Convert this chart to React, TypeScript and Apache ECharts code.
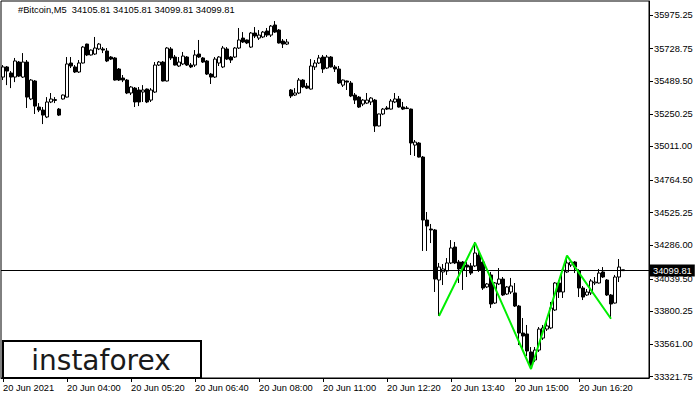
import React, { useEffect, useRef } from "react";
import * as echarts from "echarts";

// Each bar: [open, close, low, high]
const ohlc: number[][] = [
  [35520, 35594, 35498, 35608], [35594, 35564, 35461, 35601], [35550, 35520, 35439, 35564], [35520, 35638, 35483, 35660],
  [35630, 35527, 35520, 35638], [35520, 35630, 35513, 35696], [35630, 35373, 35293, 35645], [35359, 35498, 35351, 35505],
  [35491, 35307, 35249, 35498], [35300, 35278, 35263, 35329], [35278, 35241, 35175, 35300], [35227, 35337, 35219, 35373],
  [35337, 35359, 35329, 35403], [35348, 35355, 35329, 35373], [35285, 35241, 35234, 35293], [35359, 35388, 35355, 35392],
  [35373, 35616, 35370, 35667], [35623, 35601, 35586, 35667], [35594, 35557, 35550, 35608], [35557, 35623, 35550, 35645],
  [35623, 35740, 35620, 35748], [35762, 35682, 35674, 35765], [35682, 35718, 35678, 35722], [35689, 35733, 35682, 35814],
  [35726, 35762, 35718, 35770], [35726, 35718, 35696, 35740], [35711, 35638, 35630, 35733], [35667, 35652, 35645, 35674],
  [35660, 35498, 35494, 35667], [35579, 35498, 35491, 35586], [35513, 35498, 35483, 35535], [35498, 35403, 35395, 35505],
  [35403, 35447, 35388, 35454], [35439, 35337, 35300, 35447], [35425, 35337, 35307, 35447], [35410, 35425, 35337, 35461],
  [35432, 35337, 35329, 35436], [35351, 35425, 35337, 35439], [35410, 35608, 35403, 35630], [35608, 35630, 35601, 35638],
  [35630, 35491, 35488, 35638], [35491, 35733, 35488, 35740], [35726, 35660, 35645, 35740], [35667, 35608, 35605, 35682],
  [35601, 35630, 35594, 35667], [35616, 35674, 35608, 35704], [35667, 35608, 35601, 35674], [35608, 35594, 35586, 35623],
  [35608, 35682, 35594, 35718], [35689, 35667, 35660, 35792], [35660, 35630, 35623, 35667], [35638, 35542, 35535, 35645],
  [35542, 35520, 35469, 35550], [35520, 35652, 35513, 35667], [35623, 35667, 35601, 35674], [35594, 35733, 35586, 35748],
  [35726, 35652, 35645, 35740], [35667, 35645, 35623, 35674], [35667, 35733, 35660, 35740], [35733, 35792, 35726, 35880],
  [35806, 35777, 35770, 35850], [35792, 35770, 35762, 35795], [35740, 35843, 35733, 35850], [35843, 35821, 35806, 35887],
  [35806, 35828, 35792, 35865], [35814, 35850, 35806, 35858], [35858, 35828, 35814, 35880], [35828, 35894, 35814, 35902],
  [35902, 35850, 35843, 35931], [35865, 35770, 35766, 35872], [35784, 35762, 35733, 35799], [35762, 35777, 35755, 35799],
  // second session
  [35425, 35381, 35366, 35432], [35388, 35403, 35381, 35439], [35403, 35498, 35395, 35513], [35498, 35447, 35439, 35505],
  [35454, 35439, 35432, 35476], [35432, 35601, 35428, 35652], [35594, 35623, 35572, 35645], [35623, 35660, 35616, 35682],
  [35667, 35579, 35550, 35682], [35586, 35667, 35579, 35682], [35667, 35594, 35590, 35674], [35594, 35579, 35557, 35608],
  [35579, 35476, 35469, 35601], [35461, 35498, 35447, 35502], [35491, 35483, 35425, 35494], [35476, 35381, 35373, 35491],
  [35388, 35351, 35322, 35403], [35373, 35300, 35293, 35381], [35322, 35351, 35307, 35359], [35329, 35351, 35322, 35403],
  [35337, 35366, 35315, 35373], [35351, 35161, 35117, 35359], [35161, 35249, 35158, 35252], [35249, 35285, 35241, 35293],
  [35293, 35285, 35278, 35307], [35285, 35344, 35282, 35359], [35337, 35359, 35329, 35403], [35359, 35300, 35296, 35381],
  [35300, 35285, 35278, 35337], [35293, 35289, 35285, 35307], [35285, 35036, 34948, 35289], [35021, 35043, 34941, 35058],
  [35036, 34933, 34930, 35043], [34933, 34471, 34244, 34941], [34471, 34427, 34244, 34530], [34405, 34398, 34302, 34442],
  [34398, 34038, 33943, 34405], [34031, 34126, 33767, 34156], [34090, 34112, 33994, 34148], [34097, 34156, 34068, 34192],
  [34156, 34266, 34148, 34324], [34273, 34156, 34148, 34310], [34163, 34112, 34009, 34178], [34163, 34104, 33958, 34170],
  [34141, 34126, 34053, 34163], [34134, 34082, 34068, 34156], [34134, 34229, 34126, 34310], [34214, 34104, 34090, 34251],
  [34163, 33972, 33958, 34178], [33980, 34002, 33972, 34009], [34068, 33855, 33826, 34090], [33862, 34009, 33855, 34016],
  [34002, 34038, 33994, 34119], [34038, 33921, 33914, 34053], [33928, 33980, 33921, 33987], [33943, 33987, 33928, 34046],
  [33936, 33840, 33833, 34009], [33840, 33642, 33554, 33848], [33642, 33620, 33517, 33752], [33635, 33510, 33473, 33701],
  [33503, 33407, 33378, 33539], [33444, 33517, 33429, 33539], [33517, 33671, 33503, 33686], [33605, 33679, 33591, 33701],
  [33671, 33694, 33657, 33738], [33679, 33826, 33671, 33870], [33811, 34009, 33804, 34016], [34009, 33943, 33899, 34031],
  [33943, 34104, 33899, 34119], [34090, 34156, 34082, 34207], [34141, 34163, 34126, 34178], [34163, 34126, 34082, 34170],
  [34100, 33972, 33906, 34110], [33972, 33906, 33884, 33987], [33921, 33943, 33914, 33965], [33936, 34024, 33921, 34038],
  [34009, 34016, 33994, 34053], [34009, 34082, 34005, 34112], [34090, 34053, 34046, 34126], [34031, 33921, 33914, 34038],
  [33921, 33855, 33745, 33928], [33862, 34053, 33858, 34068], [34053, 34126, 34016, 34185], [34105.81, 34099.81, 34099.81, 34105.81],
];

// Pattern pivots: [bar index, price]
const zigzag: [number, number][] = [
  [109, 33767], [118, 34305], [132, 33378], [141, 34210], [152, 33747],
];

const priceTicks = [33321.75, 33561.0, 33800.25, 34039.5, 34286.0, 34525.25, 34764.5, 35011.0, 35250.25, 35489.5, 35728.75, 35975.25];
const timeTickIndex = [0, 16, 32, 48, 64, 80, 96, 112, 128, 144];
const timeTickLabels = ["20 Jun 2021", "20 Jun 04:00", "20 Jun 05:20", "20 Jun 06:40", "20 Jun 08:00", "20 Jun 11:00", "20 Jun 12:20", "20 Jun 13:40", "20 Jun 15:00", "20 Jun 16:20"];
const lastPrice = 34099.81;
const headerText = "#Bitcoin,M5  34105.81 34105.81 34099.81 34099.81";
const watermark = "instaforex";
const SLOTS = 162;
const Y_MIN = 33312;
const Y_MAX = 36078;

const FONT = '"Liberation Sans", Arial, sans-serif';

export default function App() {
  const ref = useRef<HTMLDivElement>(null);
  useEffect(() => {
    if (!ref.current) return;
    const chart = echarts.init(ref.current, null, { renderer: "svg" });
    const categories = Array.from({ length: SLOTS }, (_, i) => String(i));
    const labelMap: Record<number, string> = {};
    timeTickIndex.forEach((idx, k) => (labelMap[idx] = timeTickLabels[k]));
    const isTick = (i: number) => labelMap[i] !== undefined;

    chart.setOption({
      animation: false,
      backgroundColor: "#fff",
      textStyle: { fontFamily: FONT },
      grid: { left: 1, right: 51, top: 1, bottom: 22, show: true, borderColor: "#000", borderWidth: 1 },
      xAxis: {
        type: "category",
        data: categories,
        boundaryGap: true,
        axisLine: { show: true, lineStyle: { color: "#000", width: 1 } },
        axisTick: { show: true, alignWithLabel: true, interval: (i: number) => isTick(i), length: 4, lineStyle: { color: "#000" } },
        axisLabel: {
          interval: (i: number) => isTick(i),
          formatter: (_v: string, i: number) => labelMap[i] ?? "",
          align: "left",
          color: "#000",
          fontSize: 9.3,
          fontFamily: FONT,
          margin: 5,
        },
        splitLine: { show: false },
      },
      yAxis: {
        type: "value",
        position: "right",
        min: Y_MIN,
        max: Y_MAX,
        axisLine: { show: true, lineStyle: { color: "#000", width: 1 } },
        axisTick: { show: true, customValues: priceTicks, length: 4, lineStyle: { color: "#000" } },
        axisLabel: {
          customValues: priceTicks,
          formatter: (v: number) => v.toFixed(2),
          color: "#000",
          fontSize: 9.3,
          fontFamily: FONT,
          margin: 5,
        },
        splitLine: { show: false },
      },
      series: [
        {
          type: "candlestick",
          data: ohlc,
          barWidth: 3,
          itemStyle: { color: "#fff", color0: "#000", borderColor: "#000", borderColor0: "#000", borderWidth: 1 },
          markLine: {
            silent: true,
            symbol: ["none", "none"],
            data: [{ yAxis: lastPrice }],
            lineStyle: { color: "#000", width: 1, type: "solid" },
            label: {
              show: true,
              position: "end",
              formatter: lastPrice.toFixed(2),
              color: "#fff",
              backgroundColor: "#000",
              padding: [2, 3, 1, 3],
              fontSize: 9.3,
              fontFamily: FONT,
              distance: 1,
            },
          },
        },
        {
          type: "line",
          data: zigzag,
          symbol: "none",
          lineStyle: { color: "#00EE00", width: 2 },
          z: 5,
        },
      ],
      graphic: [
        { type: "text", left: 18, top: 5, style: { text: headerText, fill: "#000", font: `9.3px ${FONT}` } },
        { type: "rect", shape: { x: 3, y: 341, width: 198, height: 37 }, style: { fill: "#fff", stroke: "#000", lineWidth: 2 }, z: 10 },
        {
          type: "text",
          x: 101,
          y: 360,
          style: { text: watermark, fill: "#1a1a1a", font: '28px "DejaVu Sans", sans-serif', align: "center", verticalAlign: "middle" },
          z: 11,
        },
      ],
    });
    return () => chart.dispose();
  }, []);
  return <div ref={ref} style={{ position: "fixed", left: 0, top: 0, width: 700, height: 400 }} />;
}
